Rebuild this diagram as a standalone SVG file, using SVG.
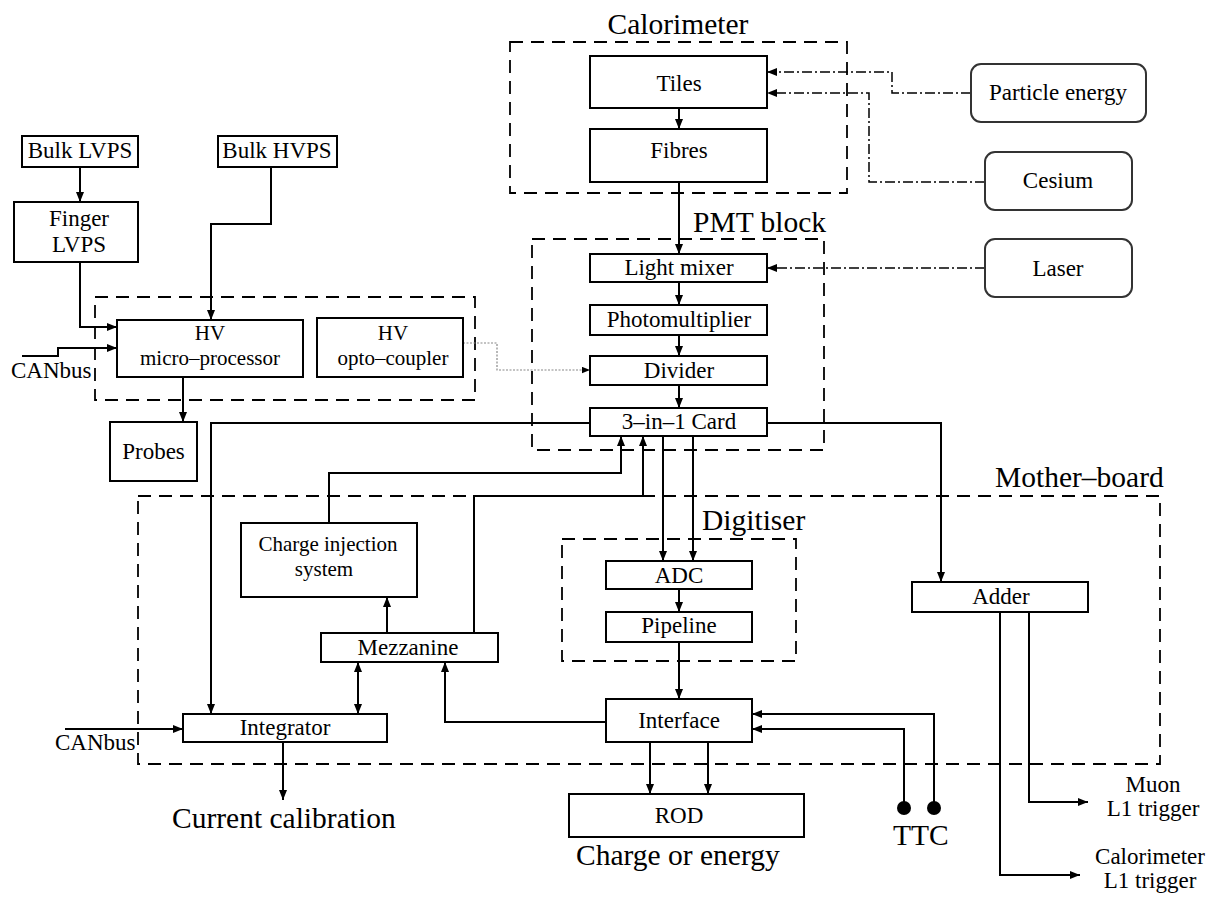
<svg xmlns="http://www.w3.org/2000/svg" width="1222" height="898" viewBox="0 0 1222 898" font-family="'Liberation Serif', 'Times New Roman', serif">
<style>
.box{fill:#fff;stroke:#000;stroke-width:2}
.rbox{fill:#fff;stroke:#333;stroke-width:2}
.grp{fill:none;stroke:#000;stroke-width:1.8;stroke-dasharray:13 8}
.ln{fill:none;stroke:#000;stroke-width:2}
.dd{fill:none;stroke:#000;stroke-width:1.5;stroke-dasharray:10 3 2 3}
.gr{fill:none;stroke:#888;stroke-width:1.2;stroke-dasharray:2 1.5}
text{font-family:'Liberation Serif','Times New Roman',serif;fill:#000}
.t{font-size:23px;text-anchor:middle}
.s{font-size:21px;text-anchor:middle}
.T{font-size:29.5px}
</style>
<defs>
<marker id="ah" viewBox="0 0 10 8" refX="10" refY="4" markerWidth="10" markerHeight="8" orient="auto-start-reverse" markerUnits="userSpaceOnUse"><path d="M0,0 L10,4 L0,8 z" fill="#000"/></marker>
<marker id="ahs" viewBox="0 0 10 8" refX="10" refY="4" markerWidth="8" markerHeight="7" orient="auto" markerUnits="userSpaceOnUse"><path d="M0,0 L10,4 L0,8 z" fill="#000"/></marker>
</defs>
<rect width="1222" height="898" fill="#fff"/>

<g id="groups">
<rect class="grp" x="510" y="42" width="337" height="151"/>
<text class="T" x="678" y="34" text-anchor="middle">Calorimeter</text>
<rect class="grp" x="532" y="239" width="292" height="211"/>
<text class="T" x="693" y="232">PMT block</text>
<rect class="grp" x="95" y="297" width="380" height="103"/>
<rect class="grp" x="138" y="496" width="1022" height="268"/>
<text class="T" x="995" y="487">Mother–board</text>
<rect class="grp" x="562" y="539" width="234" height="122"/>
<text class="T" x="702" y="530">Digitiser</text>
</g>

<g id="connectors">
<path class="ln" d="M80,167 V202" marker-end="url(#ah)"/>
<path class="ln" d="M80,262 V327 H117" marker-end="url(#ah)"/>
<path class="ln" d="M271,167 V224 H211 V320" marker-end="url(#ah)"/>
<path class="ln" d="M22,356 H58 V348 H117" marker-end="url(#ah)"/>
<path class="ln" d="M183,377 V422" marker-end="url(#ah)"/>
<path class="gr" d="M463,343 H497 V370 H590" marker-end="url(#ahs)"/>
<path class="dd" d="M971,93 H892 V72 H767" marker-end="url(#ah)"/>
<path class="dd" d="M985,182 H869 V93 H767" marker-end="url(#ah)"/>
<path class="dd" d="M985,268 H767" marker-end="url(#ah)"/>
<path class="ln" d="M679,108 V129" marker-end="url(#ah)"/>
<path class="ln" d="M679,182 V254" marker-end="url(#ah)"/>
<path class="ln" d="M679,282 V305" marker-end="url(#ah)"/>
<path class="ln" d="M679,335 V356" marker-end="url(#ah)"/>
<path class="ln" d="M679,385 V408" marker-end="url(#ah)"/>
<path class="ln" d="M590,423 H211 V714" marker-end="url(#ah)"/>
<path class="ln" d="M767,423 H941 V582" marker-end="url(#ah)"/>
<path class="ln" d="M663,436 V561" marker-end="url(#ah)"/>
<path class="ln" d="M693,436 V561" marker-end="url(#ah)"/>
<path class="ln" d="M329,523 V473 H621 V436" marker-end="url(#ah)"/>
<path class="ln" d="M474,633 V496 H643 V436" marker-end="url(#ah)"/>
<path class="ln" d="M387,633 V597" marker-end="url(#ah)"/>
<path class="ln" d="M358,662 V714" marker-start="url(#ah)" marker-end="url(#ah)"/>
<path class="ln" d="M65,729 H183" marker-end="url(#ah)"/>
<path class="ln" d="M283,742 V800" marker-end="url(#ah)"/>
<path class="ln" d="M679,589 V612" marker-end="url(#ah)"/>
<path class="ln" d="M679,642 V699" marker-end="url(#ah)"/>
<path class="ln" d="M606,722 H445 V662" marker-end="url(#ah)"/>
<path class="ln" d="M934,808 V714 H752" marker-end="url(#ah)"/>
<path class="ln" d="M904,808 V729 H752" marker-end="url(#ah)"/>
<path class="ln" d="M650,742 V794" marker-end="url(#ah)"/>
<path class="ln" d="M708,742 V794" marker-end="url(#ah)"/>
<path class="ln" d="M1029,612 V802 H1088" marker-end="url(#ah)"/>
<path class="ln" d="M1000,612 V875 H1080" marker-end="url(#ah)"/>
<circle cx="904" cy="808" r="7" fill="#000"/>
<circle cx="934" cy="808" r="7" fill="#000"/>
</g>

<g id="bulk-lvps"><rect class="box" x="22" y="136" width="116" height="31"/><text class="t" x="80" y="158">Bulk LVPS</text></g>
<g id="bulk-hvps"><rect class="box" x="218" y="136" width="119" height="31"/><text class="t" x="277" y="158">Bulk HVPS</text></g>
<g id="finger-lvps"><rect class="box" x="14" y="202" width="124" height="60"/><text class="t" x="79" y="226">Finger</text><text class="t" x="79" y="252">LVPS</text></g>
<g id="hv-micro"><rect class="box" x="117" y="320" width="186" height="57"/><text class="s" x="210" y="340">HV</text><text class="s" x="210" y="365">micro–processor</text></g>
<g id="hv-opto"><rect class="box" x="317" y="318" width="146" height="59"/><text class="s" x="393" y="340">HV</text><text class="s" x="393" y="365">opto–coupler</text></g>
<g id="canbus-top"><text x="11" y="378" font-size="23">CANbus</text></g>
<g id="probes"><rect class="box" x="110" y="422" width="87" height="59"/><text class="t" x="153.5" y="459">Probes</text></g>
<g id="tiles"><rect class="box" x="590" y="56" width="177" height="52"/><text class="t" x="679" y="91">Tiles</text></g>
<g id="fibres"><rect class="box" x="590" y="129" width="177" height="53"/><text class="t" x="679" y="158">Fibres</text></g>
<g id="particle-energy"><rect class="rbox" x="971" y="64" width="175" height="58" rx="10"/><text class="t" x="1058" y="100">Particle energy</text></g>
<g id="cesium"><rect class="rbox" x="985" y="152" width="147" height="58" rx="10"/><text class="t" x="1058" y="188">Cesium</text></g>
<g id="laser"><rect class="rbox" x="985" y="239" width="147" height="58" rx="10"/><text class="t" x="1058" y="276">Laser</text></g>
<g id="light-mixer"><rect class="box" x="590" y="254" width="177" height="28"/><text class="t" x="679" y="275">Light mixer</text></g>
<g id="photomultiplier"><rect class="box" x="590" y="305" width="177" height="30"/><text class="t" x="679" y="327">Photomultiplier</text></g>
<g id="divider"><rect class="box" x="590" y="356" width="177" height="29"/><text class="t" x="679" y="378">Divider</text></g>
<g id="card"><rect class="box" x="590" y="408" width="177" height="28"/><text class="t" x="679" y="429">3–in–1 Card</text></g>
<g id="charge-injection"><rect class="box" x="241" y="523" width="176" height="74"/><text class="s" x="328" y="551">Charge injection</text><text class="s" x="324" y="576">system</text></g>
<g id="mezzanine"><rect class="box" x="321" y="633" width="177" height="29"/><text class="t" x="408" y="655">Mezzanine</text></g>
<g id="integrator"><rect class="box" x="183" y="714" width="204" height="28"/><text class="t" x="285" y="735">Integrator</text></g>
<g id="canbus-bottom"><text x="55" y="750" font-size="23">CANbus</text></g>
<g id="current-calibration"><text class="T" x="172" y="828">Current calibration</text></g>
<g id="adc"><rect class="box" x="606" y="561" width="146" height="28"/><text class="t" x="679" y="583">ADC</text></g>
<g id="pipeline"><rect class="box" x="606" y="612" width="146" height="30"/><text class="t" x="679" y="633">Pipeline</text></g>
<g id="interface"><rect class="box" x="606" y="699" width="146" height="43"/><text class="t" x="679" y="728">Interface</text></g>
<g id="rod"><rect class="box" x="569" y="794" width="235" height="43"/><text class="t" x="679" y="823">ROD</text><text class="T" x="576" y="865">Charge or energy</text></g>
<g id="ttc"><text class="T" x="893" y="845">TTC</text></g>
<g id="adder"><rect class="box" x="912" y="582" width="176" height="30"/><text class="t" x="1001" y="604">Adder</text></g>
<g id="muon-trigger"><text class="t" x="1153" y="792">Muon</text><text class="t" x="1153" y="816">L1 trigger</text></g>
<g id="calo-trigger"><text class="t" x="1150" y="864">Calorimeter</text><text class="t" x="1150" y="888">L1 trigger</text></g>
</svg>
